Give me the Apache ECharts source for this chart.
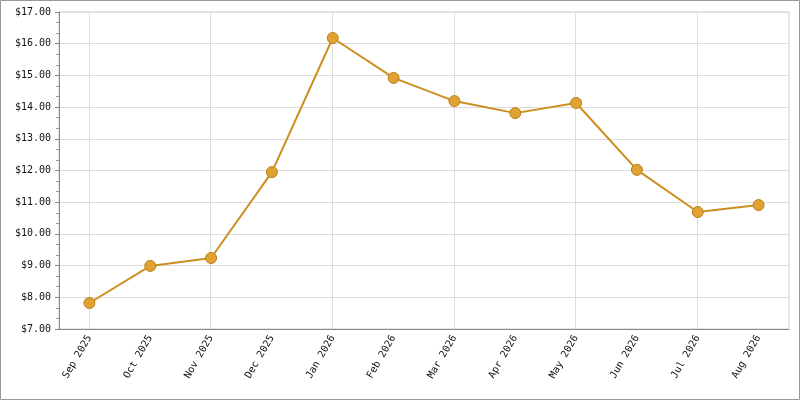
<!DOCTYPE html><html><head><meta charset="utf-8">
<script src="https://cdn.jsdelivr.net/npm/echarts@6/dist/echarts.min.js"></script>
<style>html,body{margin:0;padding:0;background:#fff}#c{width:800px;height:400px}</style></head><body><div id="c"></div>
<script>
const categories=['Sep 2025','Oct 2025','Nov 2025','Dec 2025','Jan 2026','Feb 2026','Mar 2026','Apr 2026','May 2026','Jun 2026','Jul 2026','Aug 2026'];
const prices=[7.82,8.99,9.24,11.95,16.18,14.92,14.19,13.81,14.13,12.02,10.69,10.91];
const yTicks={min:7,max:17,interval:1};
const font='DejaVu Sans Mono';
const chart=echarts.init(document.getElementById('c'));
chart.setOption({
 animation:false,
 graphic:[{type:'rect',shape:{x:0.5,y:0.5,width:799,height:399},style:{fill:'none',stroke:'#999',lineWidth:1}}],
 grid:[{left:59,right:11,top:12,bottom:71,show:true,borderColor:'#ccc',borderWidth:1},
       {left:89,right:42,top:12,bottom:71}],
 xAxis:[{type:'category',data:categories,gridIndex:0,boundaryGap:true,
   axisLine:{lineStyle:{color:'#888'}},axisTick:{alignWithLabel:true,lineStyle:{color:'#888'},length:5},
   axisLabel:{rotate:60,color:'#111',fontFamily:font,fontSize:10,margin:7},splitLine:{show:false}},
  {type:'category',data:categories,gridIndex:1,boundaryGap:false,axisLine:{show:false},axisTick:{show:false},axisLabel:{show:false},
   splitLine:{show:true,lineStyle:{color:'#ddd'}}}],
 yAxis:[{type:'value',gridIndex:0,min:yTicks.min,max:yTicks.max,interval:yTicks.interval,
   axisLine:{show:true,lineStyle:{color:'#888'}},axisTick:{show:true,length:4,lineStyle:{color:'#888'}},
   minorTick:{show:true,splitNumber:3,length:3,lineStyle:{color:'#999'}},
   axisLabel:{color:'#111',fontFamily:font,fontSize:10,formatter:v=>'$'+v.toFixed(2)},
   splitLine:{lineStyle:{color:'#ddd'}}},
  {type:'value',gridIndex:1,min:yTicks.min,max:yTicks.max,show:false}],
 series:[{type:'line',xAxisIndex:0,yAxisIndex:0,data:prices,symbol:'circle',symbolSize:11,
   lineStyle:{color:'#cc8f1f',width:2},itemStyle:{color:'#e0a233',borderColor:'#b8801c',borderWidth:1}}]
});
</script></body></html>
